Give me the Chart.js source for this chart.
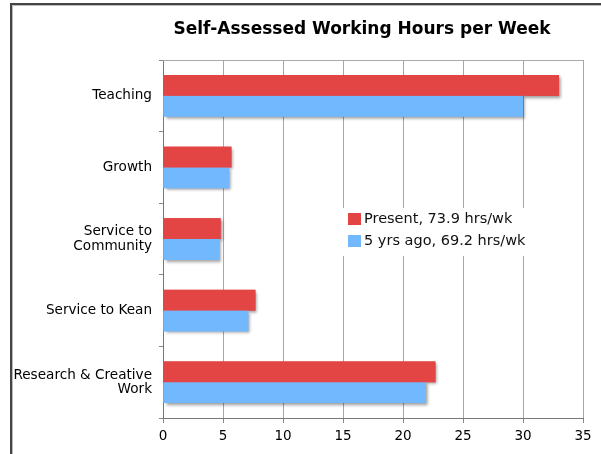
<!DOCTYPE html>
<html>
<head>
<meta charset="utf-8">
<script src="https://cdn.jsdelivr.net/npm/chart.js@4"></script>
<style>
  body { margin: 0; background: #fff; }
  #canvas { display: block; }
</style>
</head>
<body>
<canvas id="canvas" width="601" height="454"></canvas>
<script>
var titleText = 'Self-Assessed Working Hours per Week';
var categories = ['Teaching', 'Growth', ['Service to', 'Community'], 'Service to Kean', ['Research & Creative', 'Work']];
var present = [33, 5.7, 4.8, 7.7, 22.7];
var fiveYrsAgo = [30, 5.5, 4.7, 7.1, 21.9];
var seriesLabels = ['Present, 73.9 hrs/wk', '5 yrs ago, 69.2 hrs/wk'];
var xTicks = [0, 5, 10, 15, 20, 25, 30, 35];

var RED = '#e34545';
var BLUE = '#72b8ff';
var FONT = '"DejaVu Sans", Verdana, sans-serif';

// outer frame + title
var framePlugin = {
    id: 'frame',
    beforeDraw: function(chart) {
        var ctx = chart.ctx;
        ctx.save();
        ctx.fillStyle = '#fff';
        ctx.fillRect(0, 0, chart.width, chart.height);
        ctx.strokeStyle = '#bbb';
        ctx.lineWidth = 1;
        ctx.beginPath();
        ctx.moveTo(12.5, chart.height);
        ctx.lineTo(12.5, 5.5);
        ctx.lineTo(chart.width, 5.5);
        ctx.stroke();
        ctx.strokeStyle = '#444';
        ctx.lineWidth = 2;
        ctx.beginPath();
        ctx.moveTo(11, chart.height);
        ctx.lineTo(11, 4);
        ctx.lineTo(chart.width, 4);
        ctx.stroke();
        ctx.fillStyle = '#000';
        ctx.font = 'bold 17px ' + FONT;
        ctx.textAlign = 'center';
        ctx.textBaseline = 'middle';
        ctx.fillText(titleText, 362, 30);
        ctx.restore();
    }
};

// drop shadows under bars, drawn before the bars themselves
var shadowPlugin = {
    id: 'barShadow',
    beforeDatasetsDraw: function(chart) {
        var ctx = chart.ctx;
        ctx.save();
        ctx.shadowColor = 'rgba(0,0,0,0.4)';
        ctx.shadowBlur = 3;
        ctx.shadowOffsetX = 2;
        ctx.shadowOffsetY = 2;
        chart.data.datasets.forEach(function(ds, i) {
            var meta = chart.getDatasetMeta(i);
            ctx.fillStyle = ds.backgroundColor;
            meta.data.forEach(function(bar) {
                var p = bar.getProps(['x', 'y', 'base', 'height'], true);
                ctx.fillRect(p.base, p.y - p.height / 2, p.x - p.base, p.height);
            });
        });
        ctx.restore();
    },
    afterDatasetsDraw: function(chart) {
        var ctx = chart.ctx;
        var area = chart.chartArea;
        ctx.save();
        // top border of plot
        ctx.strokeStyle = '#aaa';
        ctx.lineWidth = 1;
        ctx.beginPath();
        ctx.moveTo(area.left, area.top + 0.5);
        ctx.lineTo(area.right, area.top + 0.5);
        ctx.stroke();

        // legend inside the plot
        var lx = chart.scales.x.getPixelForValue(15) + 2;
        var ly = chart.scales.y.getPixelForValue(2) - 26;
        ctx.font = '14.5px ' + FONT;
        var w = 0;
        seriesLabels.forEach(function(t) { w = Math.max(w, ctx.measureText(t).width); });
        ctx.fillStyle = '#fff';
        ctx.fillRect(lx - 3, ly - 5, w + 26, 48);
        ctx.textBaseline = 'middle';
        ctx.textAlign = 'left';
        chart.data.datasets.forEach(function(ds, i) {
            var y = ly + 6 + i * 22;
            ctx.fillStyle = ds.backgroundColor;
            ctx.fillRect(lx + 3, y - 6, 13, 12);
            ctx.fillStyle = '#111';
            ctx.fillText(seriesLabels[i], lx + 19, y);
        });
        ctx.restore();
    }
};

var config = {
    type: 'bar',
    data: {
        labels: categories,
        datasets: [{
                label: seriesLabels[0],
                backgroundColor: RED,
                data: present
            },
            {
                label: seriesLabels[1],
                backgroundColor: BLUE,
                data: fiveYrsAgo
            }
        ]
    },
    options: {
        indexAxis: 'y',
        responsive: false,
        animation: false,
        layout: { padding: { top: 60, right: 18, left: 0, bottom: 0 } },
        datasets: {
            bar: { categoryPercentage: 0.58, barPercentage: 1.0, borderWidth: 0 }
        },
        plugins: {
            legend: { display: false },
            title: { display: false },
            tooltip: { enabled: false }
        },
        scales: {
            x: {
                min: 0,
                max: 35,
                afterBuildTicks: function(scale) {
                    scale.ticks = xTicks.map(function(v) { return { value: v }; });
                },
                afterFit: function(scale) { scale.height = 36; },
                grid: { color: '#a8a8a8', lineWidth: 1, tickLength: 5, tickColor: '#888' },
                border: { color: '#777', width: 1 },
                ticks: { color: '#000', padding: 5, font: { family: FONT, size: 13.5 } }
            },
            y: {
                offset: true,
                afterFit: function(scale) { scale.width = 163; },
                grid: { drawOnChartArea: false, offset: true, tickLength: 4, tickColor: '#888' },
                border: { color: '#777', width: 1 },
                ticks: { color: '#000', padding: 7, font: { family: FONT, size: 13.6, lineHeight: 1.05 } }
            }
        }
    },
    plugins: [framePlugin, shadowPlugin]
};

window.addEventListener('load', function() {
    var ctx = document.getElementById('canvas').getContext('2d');
    window.BarChart = new Chart(ctx, config);
});
</script>
</body>
</html>
